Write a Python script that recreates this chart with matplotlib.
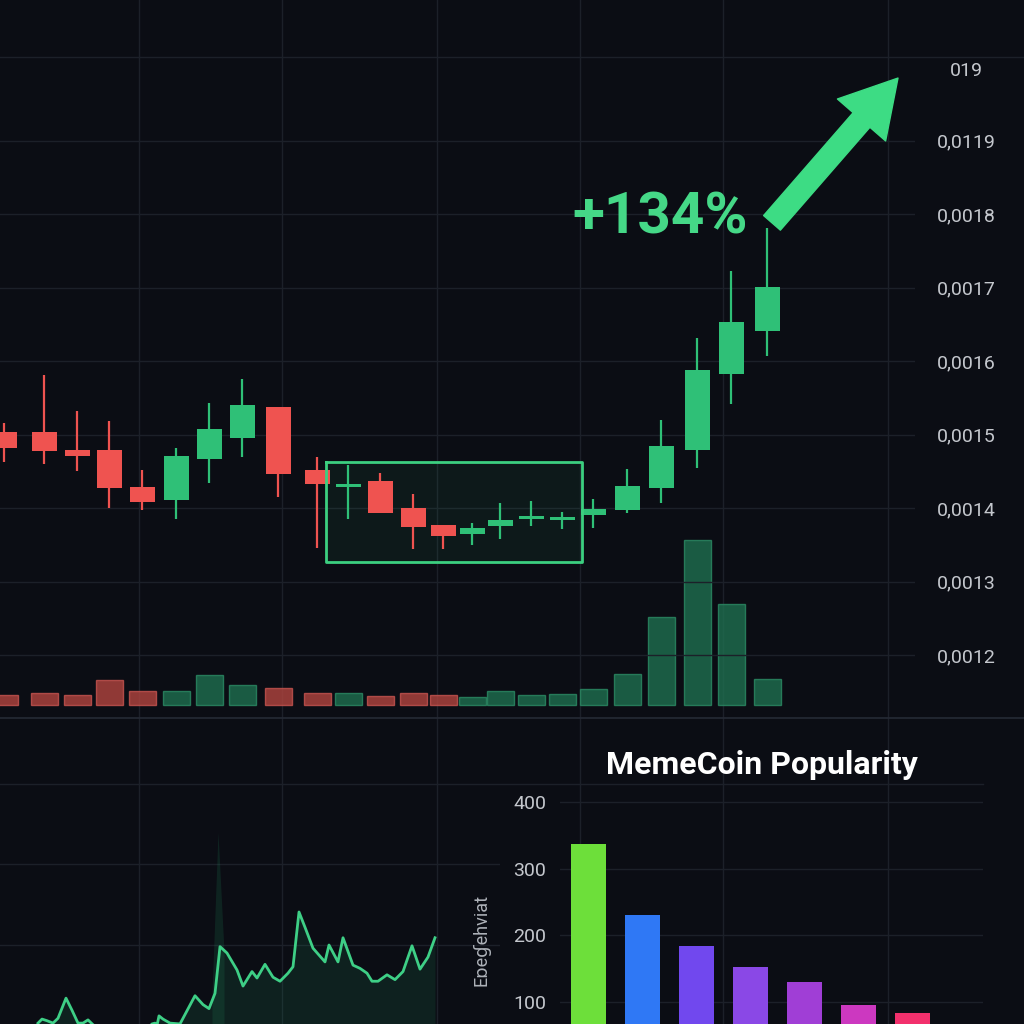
import matplotlib
matplotlib.use('Agg')
import matplotlib.pyplot as plt
from matplotlib.lines import Line2D

plt.rcParams['font.family'] = ['Roboto', 'DejaVu Sans']

bg = '#0b0d14'
grid_c = '#1c2029'
up_c = '#2fc077'
down_c = '#ef5350'
text_c = '#c4c7cd'

# candles: time position, OHLC
t = [4, 44, 77, 109, 142, 176, 209, 242, 278, 317, 348, 380,
     413, 443, 472, 500, 531, 562, 593, 627, 661, 697, 731, 767]
opens = [0.001503, 0.001503, 0.001479, 0.001479, 0.001429, 0.001411, 0.001467, 0.001495,
         0.001537, 0.001452, 0.001429, 0.001437, 0.001400, 0.001377, 0.001365, 0.001376,
         0.001385, 0.001384, 0.001391, 0.001397, 0.001427, 0.001479, 0.001582, 0.001641]
closes = [0.001482, 0.001478, 0.001471, 0.001427, 0.001408, 0.001471, 0.001508, 0.001540,
          0.001446, 0.001433, 0.001433, 0.001393, 0.001374, 0.001362, 0.001373, 0.001384,
          0.001389, 0.001388, 0.001399, 0.001430, 0.001484, 0.001588, 0.001653, 0.001701]
highs = [0.001516, 0.001581, 0.001532, 0.001518, 0.001452, 0.001482, 0.001543, 0.001576,
         0.001537, 0.001469, 0.001459, 0.001448, 0.001419, 0.001377, 0.001380, 0.001407,
         0.001410, 0.001395, 0.001412, 0.001453, 0.001520, 0.001631, 0.001722, 0.001781]
lows = [0.001463, 0.001460, 0.001450, 0.001400, 0.001397, 0.001385, 0.001434, 0.001469,
        0.001415, 0.001346, 0.001385, 0.001393, 0.001344, 0.001344, 0.001350, 0.001358,
        0.001376, 0.001371, 0.001373, 0.001393, 0.001407, 0.001454, 0.001542, 0.001607]
volume = [10, 12, 10, 25, 14, 14, 30, 20, 17, 12, 12, 9,
          12, 10, 8, 14, 10, 11, 16, 31, 88, 165, 101, 26]

price_ticks = [0.0012, 0.0013, 0.0014, 0.0015, 0.0016, 0.0017, 0.0018, 0.0019, 0.001997]
price_labels = ['0,0012', '0,0013', '0,0014', '0,0015', '0,0016', '0,0017', '0,0018', '0,0119', '019']
grid_levels = [0.0012, 0.0013, 0.0014, 0.0015, 0.0016, 0.0017, 0.0018, 0.0019]

box_t = [326, 582]
box_p = [0.001327, 0.001463]
gain_label = '+134%'
arrow_from = (772, 0.001788)
arrow_to = (898, 0.001985)
label_at = (660, 0.001795)

# popularity line
lx = [38, 42, 47, 53, 58, 66, 72, 78, 83, 88, 93, 110, 130, 145, 152, 155, 157, 159, 163,
      170, 180, 195, 203, 209, 215, 220, 227, 237, 243, 252, 257, 265, 273, 280, 288, 293,
      299, 305, 313, 325, 329, 338, 343, 353, 360, 367, 372, 378, 387, 395, 403, 412, 420,
      428, 435]
lv = [3, 8, 6, 3, 9, 34, 19, 3, 3, 7, 1, -15, -20, -8, 2, 3, 0, 12, 8,
      3, 2, 37, 26, 21, 40, 98, 90, 69, 49, 67, 59, 76, 60, 55, 65, 73,
      141, 122, 96, 79, 100, 79, 109, 75, 71, 65, 55, 55, 63, 57, 67, 99, 70,
      85, 109]
spike_x = [212, 218, 224]
spike_v = [40, 240, 92]

# memecoin popularity bars
coins = ['A', 'B', 'C', 'D', 'E', 'F', 'G']
popularity = [337, 230, 184, 153, 130, 96, 84]
bar_colors = ['#6ddf3a', '#2f78f5', '#7148ee', '#8a48e6', '#a03ed6', '#cc38c0', '#f2306c']

fig = plt.figure(figsize=(10.24, 10.24), dpi=100, facecolor=bg)
W = H = 1024.0

# background grid lines (figure level)
for gx in [139, 282, 437, 580, 723, 888]:
    fig.add_artist(Line2D([gx / W, gx / W], [0, 1], color=grid_c, lw=1, zorder=-1))
fig.add_artist(Line2D([0, 1], [1 - 57 / H] * 2, color=grid_c, lw=1, zorder=-1))
fig.add_artist(Line2D([0, 1], [1 - 718 / H] * 2, color='#252a35', lw=1.2, zorder=-1))
fig.add_artist(Line2D([0, 983 / W], [1 - 784 / H] * 2, color=grid_c, lw=1, zorder=-1))

# ---- candlestick panel ----
ax = fig.add_axes([0, 1 - 718 / H, 915 / W, 718 / H])
ax.set_facecolor('none')
axv = ax.twinx()
axv.set_zorder(ax.get_zorder() - 1)
ax.patch.set_visible(False)
axv.patch.set_visible(False)

for g in grid_levels:
    ax.axhline(g, color=grid_c, lw=1, zorder=0)

colors = [up_c if c >= o else down_c for o, c in zip(opens, closes)]
ax.vlines(t, lows, highs, colors=colors, lw=1.6, zorder=3)
bottoms = [min(o, c) for o, c in zip(opens, closes)]
heights = [max(abs(c - o), 0.000004) for o, c in zip(opens, closes)]
ax.bar(t, heights, bottom=bottoms, width=25, color=colors, zorder=4)

ax.fill_between(box_t, box_p[0], box_p[1], color=up_c, alpha=0.07, lw=0, zorder=1)
ax.plot([box_t[0], box_t[1], box_t[1], box_t[0], box_t[0]],
        [box_p[1], box_p[1], box_p[0], box_p[0], box_p[1]], color='#3ccf80', lw=2, zorder=5)

ax.annotate('', xy=arrow_to, xytext=arrow_from,
            arrowprops=dict(arrowstyle='simple,head_length=1.0,head_width=1.15,tail_width=0.4',
                            mutation_scale=40, color='#3ddc84', shrinkA=0, shrinkB=0), zorder=6)
ax.text(label_at[0], label_at[1], gain_label, color='#45d887', fontsize=42,
        fontweight='bold', ha='center', va='center', zorder=6)

ax.set_xlim(0, 915)
ax.set_ylim(0.0011143, 0.0020912)
ax.set_xticks([])
ax.yaxis.tick_right()
ax.set_yticks(price_ticks)
ax.set_yticklabels(price_labels)
ax.tick_params(axis='y', length=0, pad=36.7, labelsize=14, labelcolor=text_c)
for lbl in ax.get_yticklabels():
    lbl.set_horizontalalignment('center')
for s in ax.spines.values():
    s.set_visible(False)

vol_colors = ['#1f7050' if c >= o else '#b2453f' for o, c in zip(opens, closes)]
vol_edges = ['#2c8c65' if c >= o else '#c85550' for o, c in zip(opens, closes)]
axv.bar(t, volume, width=27, color=vol_colors, edgecolor=vol_edges, lw=1, alpha=0.8)
axv.set_ylim(-13, 705)
axv.set_yticks([])
for s in axv.spines.values():
    s.set_visible(False)

# ---- line panel ----
axl = fig.add_axes([0, 0, 500 / W, 306 / H])
axl.set_facecolor('none')
for g in [100, 200]:
    axl.axhline(g, color=grid_c, lw=1, zorder=0)
axl.fill_between(lx, lv, -50, color='#1f8a5c', alpha=0.16, lw=0)
axl.fill_between(spike_x, spike_v, -50, color='#1f8a5c', alpha=0.18, lw=0)
axl.plot(lx, lv, color='#3ecf86', lw=2)
axl.set_xlim(0, 500)
axl.set_ylim(1.9, 381.9)
axl.axis('off')

# ---- bar panel ----
axb = fig.add_axes([560 / W, 0, 423 / W, 306 / H])
axb.set_facecolor('none')
axb.bar(range(len(coins)), popularity, width=0.65, color=bar_colors, zorder=3)
axb.set_xlim(-0.52, 7.31)
axb.set_ylim(67, 526)
axb.set_yticks([100, 200, 300, 400])
axb.set_xticks([])
axb.yaxis.grid(True, color=grid_c, lw=1)
axb.set_axisbelow(True)
axb.tick_params(axis='y', length=0, pad=10, labelsize=14, labelcolor=text_c)
for s in axb.spines.values():
    s.set_visible(False)

fig.text(762 / W, 1 - 765 / H, 'MemeCoin Popularity', color='white', fontsize=23,
         fontweight='bold', ha='center', va='center')
fig.text(481 / W, 1 - 940 / H, 'Eɒeɠehviat', color='#aeb2b9', fontsize=13,
         rotation=90, ha='center', va='center')

fig.savefig('out.png', dpi=100, facecolor=bg)
